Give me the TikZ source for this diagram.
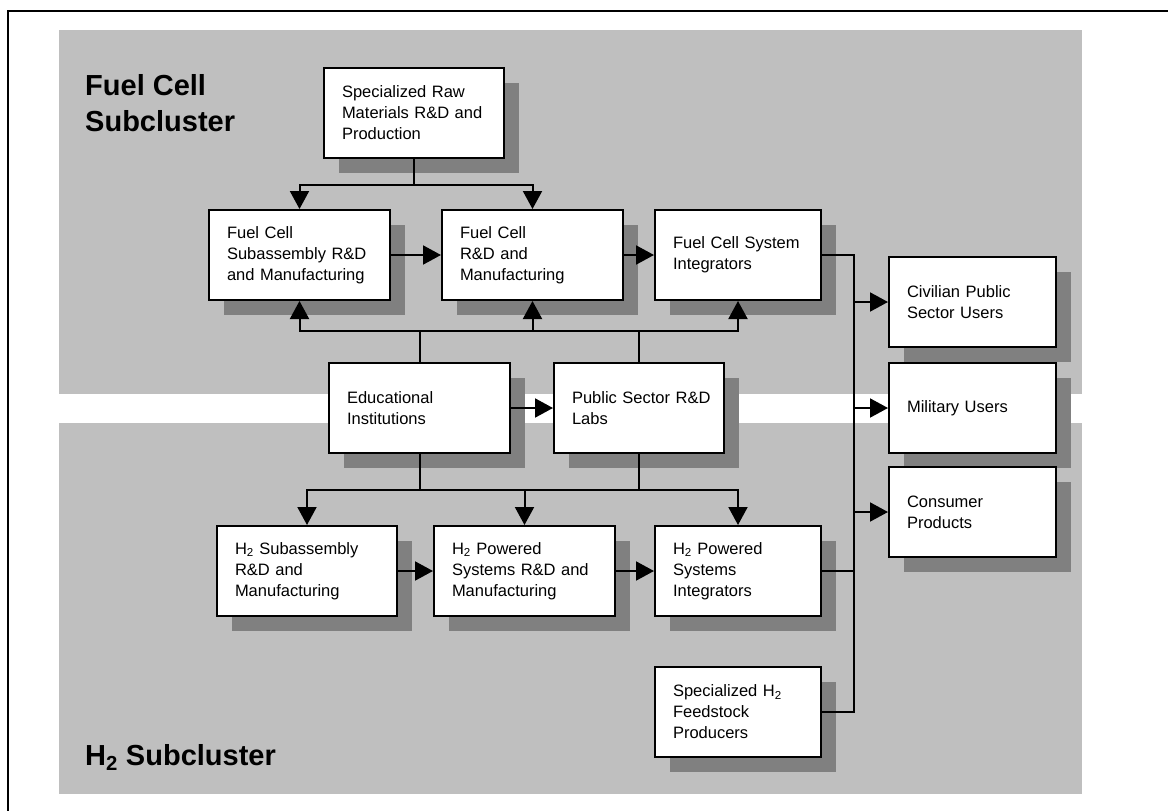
\documentclass[tikz,border=0pt]{standalone}
\usepackage{fontspec}
\setmainfont{Liberation Sans}
\usepackage{tikz}
\usetikzlibrary{arrows.meta,calc,positioning,shadows}
\newcommand{\Htwo}{H\textsubscript{2}}

\begin{document}
\begin{tikzpicture}[x=1pt,y=-1pt,
  box/.style={draw,line width=2pt,fill=white,anchor=north west,align=left,text width=#1,
    inner xsep=18pt,inner ysep=0pt,minimum height=90pt,font=\fontsize{16.5}{21}\selectfont,
    drop shadow={shadow xshift=15pt,shadow yshift=-15pt,fill=black!50,opacity=1}},
  link/.style={line width=2pt},
  arr/.style={line width=2pt,-{Triangle[length=18pt,width=19pt]}},
  title/.style={anchor=north west,align=left,inner sep=0pt,font=\fontsize{29}{36}\selectfont\bfseries}]
\useasboundingbox (0,0) rectangle (1168,811);
\clip (0,0) rectangle (1168,811);
\draw[line width=2pt] (8,11) rectangle (1200,850);
\fill[black!25] (59,30) rectangle (1082,394);
\fill[black!25] (59,423) rectangle (1082,794);
\node[title] (fctitle) at (85,74) {Fuel Cell\\Subcluster};
\node[title,anchor=base west] (htitle) at (85,765) {\Htwo{} Subcluster};

\node[box=144pt] (raw) at (323,67) {Specialized Raw\\Materials R\&D and\\Production};
\node[box=145pt] (fcsub) at (208,209) {Fuel Cell\\Subassembly R\&D\\and Manufacturing};
\node[box=145pt] (fcstack) at (441,209) {Fuel Cell\\R\&D and\\Manufacturing};
\node[box=130pt] (fcsys) at (654,209) {Fuel Cell System\\Integrators};
\node[box=131pt] (civil) at (888,256) {Civilian Public\\Sector Users};
\node[box=145pt] (edu) at (328,362) {Educational\\Institutions};
\node[box=134pt] (lab) at (553,362) {\mbox{Public Sector R\&D}\\Labs};
\node[box=131pt] (mil) at (888,362) {Military Users};
\node[box=131pt] (cons) at (888,466) {Consumer\\Products};
\node[box=144pt] (hsub) at (216,525) {\Htwo{} Subassembly\\R\&D and\\Manufacturing};
\node[box=145pt] (hsys) at (433,525) {\Htwo{} Powered\\Systems R\&D and\\Manufacturing};
\node[box=130pt] (hint) at (654,525) {\Htwo{} Powered\\Systems\\Integrators};
\node[box=130pt] (feed) at (654,666) {Specialized \Htwo\\Feedstock\\Producers};

\draw[link] (raw.south) -- ++(0,26) coordinate (rawfork);
\draw[arr] (rawfork) -| (fcsub.north);
\draw[arr] (rawfork) -| (fcstack.north);
\draw[arr] (fcsub.east) -- (fcstack.west);
\draw[arr] (fcstack.east) -- (fcsys.west);

\draw[link] (edu.north) -- ++(0,-31) coordinate (upfork);
\draw[link] (lab.north) -- (lab.north |- upfork);
\draw[arr] (upfork) -| (fcsub.south);
\draw[arr] (upfork) -| (fcstack.south);
\draw[arr] (upfork) -| (fcsys.south);
\draw[arr] (edu.east) -- (lab.west);

\draw[link] (edu.south) -- ++(0,36) coordinate (downfork);
\draw[link] (lab.south) -- (lab.south |- downfork);
\draw[arr] (downfork) -| (hsub.north);
\draw[arr] (downfork) -| (hsys.north);
\draw[arr] (downfork) -| (hint.north);
\draw[arr] (hsub.east) -- (hsys.west);
\draw[arr] (hsys.east) -- (hint.west);

\coordinate (bus) at (854,254);
\draw[link] (fcsys.east) -| (feed.east -| bus) -- (feed.east);
\draw[link] (hint.east) -- (hint.east -| bus);
\draw[arr] (civil.west -| bus) -- (civil.west);
\draw[arr] (mil.west -| bus) -- (mil.west);
\draw[arr] (cons.west -| bus) -- (cons.west);
\end{tikzpicture}
\end{document}
